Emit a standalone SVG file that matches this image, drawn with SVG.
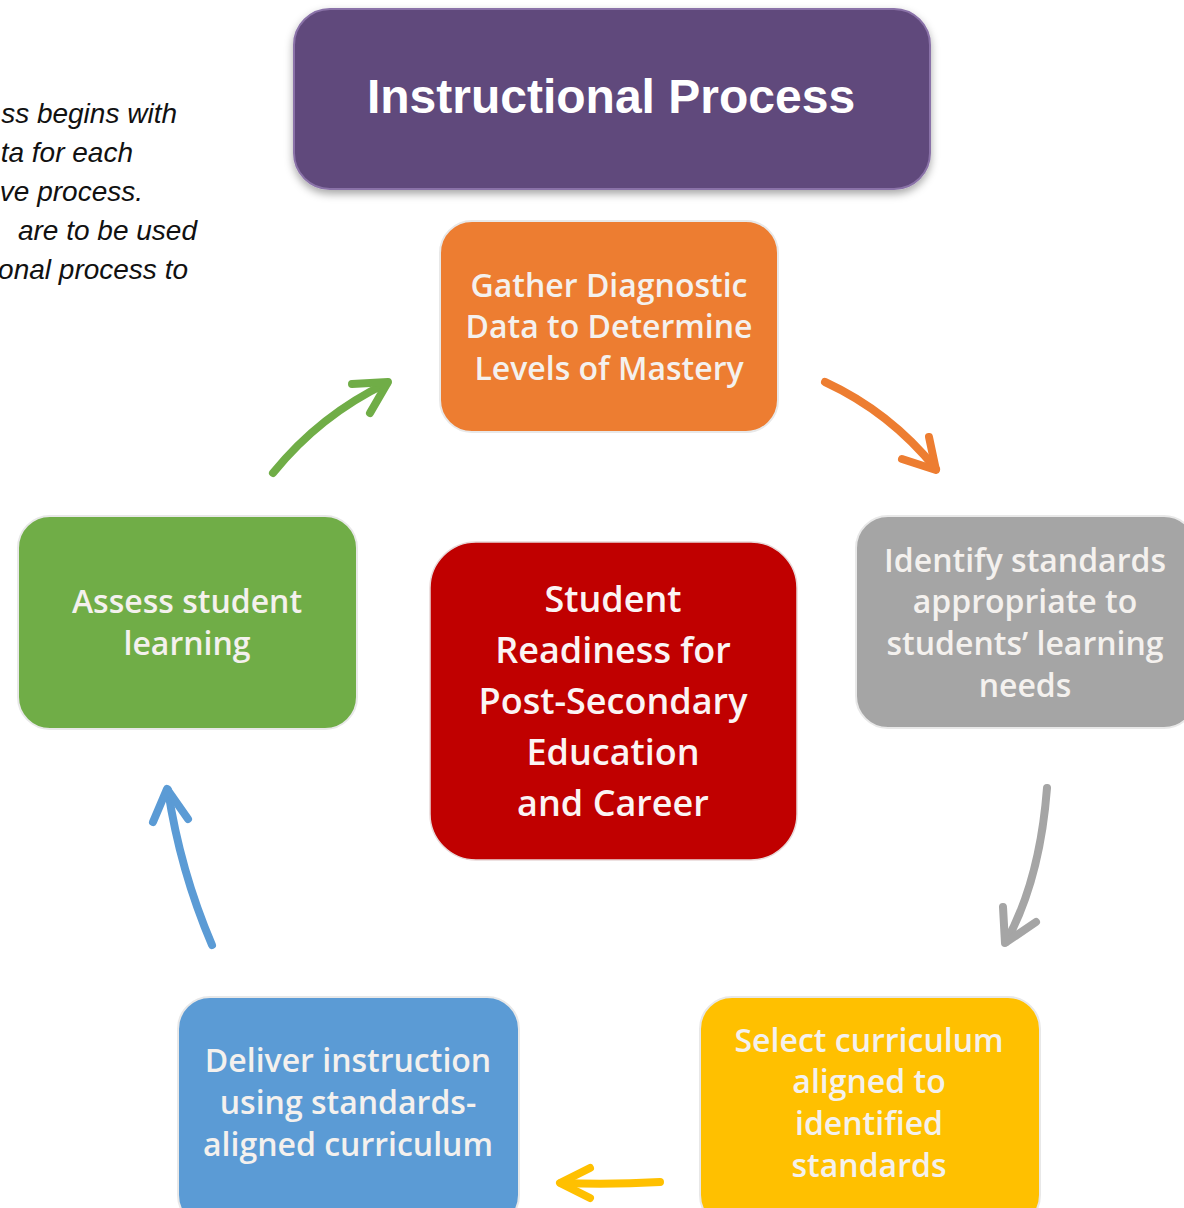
<svg xmlns="http://www.w3.org/2000/svg" width="1184" height="1208" viewBox="0 0 1184 1208">
<defs>
<style>
.box{stroke:#e8e8e8;stroke-width:2}
.lbl{font-family:"Open Sans","Noto Sans",sans-serif;font-size:32px;font-weight:600;fill:#f4f1ee;text-anchor:middle}
.big{font-size:36px;fill:#fbf4f4}
.note{font-family:"Liberation Sans",Arial,sans-serif;font-style:italic;font-size:28px;fill:#111;text-anchor:end}
.arr{fill:none;stroke-width:8;stroke-linecap:round;stroke-linejoin:round}
</style>
<filter id="sh" x="-10%" y="-10%" width="120%" height="130%">
<feDropShadow dx="0" dy="4" stdDeviation="4" flood-color="#000" flood-opacity="0.35"/>
</filter>
</defs>
<rect width="1184" height="1208" fill="#fff"/>
<g id="note">
<text class="note" x="177" y="123">ss begins with</text>
<text class="note" x="133" y="162">ta for each</text>
<text class="note" x="143" y="201">ve process.</text>
<text class="note" x="197" y="240">are to be used</text>
<text class="note" x="188" y="279">onal process to</text>
</g>
<g id="title">
<rect x="294" y="9" width="636" height="180" rx="36" fill="#604a7b" stroke="#8a72a8" stroke-width="2" filter="url(#sh)"/>
<text x="611" y="113" font-family="Liberation Sans,Arial,sans-serif" font-weight="bold" font-size="48" fill="#fff" text-anchor="middle">Instructional Process</text>
</g>
<g id="gather">
<rect class="box" x="440" y="221" width="338" height="211" rx="32" fill="#ed7d31"/>
<text class="lbl" x="609" y="297">Gather Diagnostic</text>
<text class="lbl" x="609" y="338">Data to Determine</text>
<text class="lbl" x="609" y="380">Levels of Mastery</text>
</g>
<g id="identify">
<rect class="box" x="856" y="516" width="340" height="212" rx="32" fill="#a5a5a5"/>
<text class="lbl" x="1025" y="572">Identify standards</text>
<text class="lbl" x="1025" y="613">appropriate to</text>
<text class="lbl" x="1025" y="655">students’ learning</text>
<text class="lbl" x="1025" y="697">needs</text>
</g>
<g id="select">
<rect class="box" x="700" y="997" width="340" height="230" rx="32" fill="#ffc000"/>
<text class="lbl" x="869" y="1052">Select curriculum</text>
<text class="lbl" x="869" y="1093">aligned to</text>
<text class="lbl" x="869" y="1135">identified</text>
<text class="lbl" x="869" y="1177">standards</text>
</g>
<g id="deliver">
<rect class="box" x="178" y="997" width="341" height="230" rx="32" fill="#5b9bd5"/>
<text class="lbl" x="348" y="1072">Deliver instruction</text>
<text class="lbl" x="348" y="1114">using standards-</text>
<text class="lbl" x="348" y="1156">aligned curriculum</text>
</g>
<g id="assess">
<rect class="box" x="18" y="516" width="339" height="213" rx="32" fill="#70ad47"/>
<text class="lbl" x="187" y="613">Assess student</text>
<text class="lbl" x="187" y="655">learning</text>
</g>
<g id="center">
<rect x="430" y="542" width="367" height="318" rx="46" fill="#c00000" stroke="#e8d8d8" stroke-width="1.5"/>
<text class="lbl big" x="613" y="612">Student</text>
<text class="lbl big" x="613" y="663">Readiness for</text>
<text class="lbl big" x="613" y="714">Post-Secondary</text>
<text class="lbl big" x="613" y="765">Education</text>
<text class="lbl big" x="613" y="816">and Career</text>
</g>
<g id="connectors">
<g stroke="#70ad47" class="arr">
<path d="M273,473 Q320,415 387,383"/>
<path d="M352,384 L388,382 L370,413"/>
</g>
<g stroke="#ed7d31" class="arr">
<path d="M825,382 Q890,412 936,469"/>
<path d="M902,459 L936,470 L929,437"/>
</g>
<g stroke="#a5a5a5" class="arr">
<path d="M1047,788 Q1040,880 1006,942"/>
<path d="M1003,907 L1005,943 L1036,922"/>
</g>
<g stroke="#ffc000" class="arr">
<path d="M660,1182 Q610,1185 561,1183"/>
<path d="M590,1168 L560,1183 L590,1198"/>
</g>
<g stroke="#5b9bd5" class="arr">
<path d="M212,945 Q180,870 168,790"/>
<path d="M153,822 L167,789 L188,819"/>
</g>
</g>
</svg>
